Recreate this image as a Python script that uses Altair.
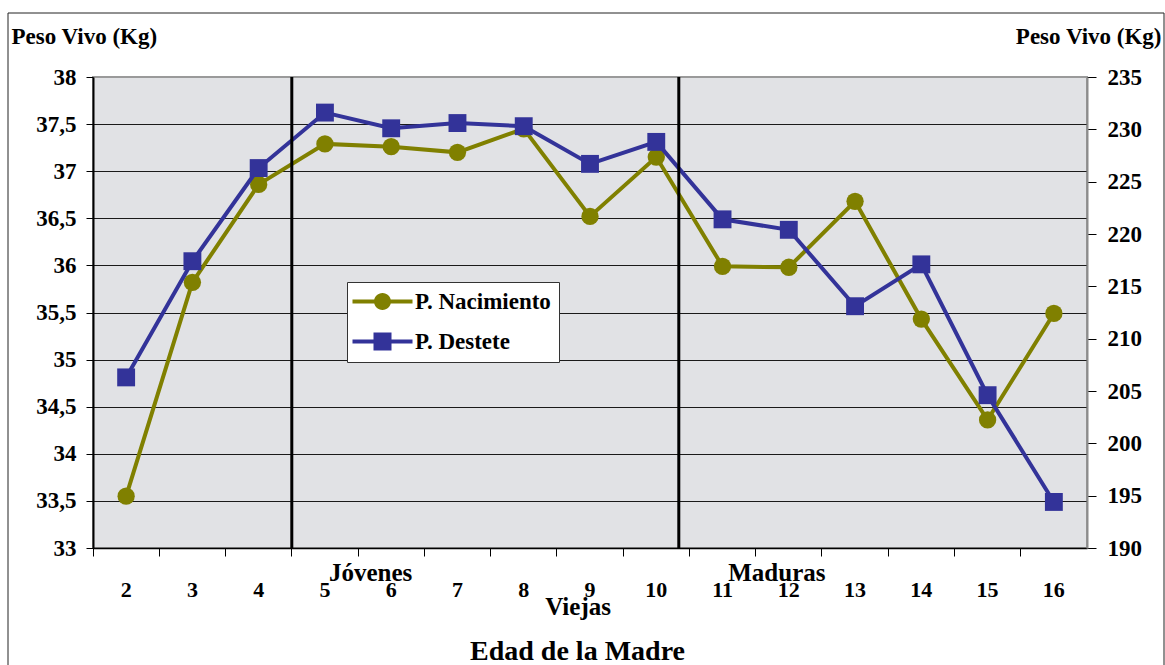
import altair as alt
import pandas as pd

# Edad de la madre (años) y pesos medios
edades = ["2", "3", "4", "5", "6", "7", "8", "9", "10", "11", "12", "13", "14", "15", "16"]
peso_nacimiento = [33.55, 35.82, 36.86, 37.29, 37.26, 37.20, 37.45, 36.52, 37.15,
                   35.99, 35.98, 36.68, 35.43, 34.36, 35.49]
peso_destete = [206.3, 217.4, 226.3, 231.6, 230.1, 230.6, 230.3, 226.7, 228.8,
                221.4, 220.4, 213.1, 217.1, 204.6, 194.4]

series = ["P. Nacimiento", "P. Destete"]
colores = ["#808000", "#333399"]

eje_izq = [33, 33.5, 34, 34.5, 35, 35.5, 36, 36.5, 37, 37.5, 38]
eje_der = [190, 195, 200, 205, 210, 215, 220, 225, 230, 235]

# separadores entre grupos de edad: banda y posición dentro de la banda
divisiones = [
    {"edad": "5", "pos": 0.0},
    {"edad": "10", "pos": 0.84},
]
# rótulos de grupo: texto, banda, posición dentro de la banda y fila bajo el eje
grupos = [
    {"txt": "Jóvenes", "edad": "6", "pos": 0.19, "fila": 33},
    {"txt": "Maduras", "edad": "12", "pos": 0.32, "fila": 33},
    {"txt": "Viejas", "edad": "9", "pos": 0.32, "fila": 67},
]

W, H = 994, 471
FONT = "Liberation Serif"

df = pd.DataFrame({"edad": edades, "nac": peso_nacimiento, "des": peso_destete})
df_leyenda = pd.DataFrame({"edad": edades[:2], "serie": series})

x_scale = alt.Scale(type="band", domain=edades, paddingInner=0, paddingOuter=0)
x_axis = alt.Axis(
    title="Edad de la Madre", labelAngle=0, bandPosition=0, grid=False,
    tickSize=8, tickColor="black", domainColor="black", domainWidth=1.5,
    labelFont=FONT, labelFontWeight="bold", labelFontSize=22,
    labelBaseline="alphabetic", labelPadding=40,
    titleFont=FONT, titleFontWeight="bold", titleFontSize=28,
    titleX=484, titleY=111, titleAlign="center", titleBaseline="alphabetic",
)


def xenc(band=None):
    if band is None:
        return alt.X("edad:O", scale=x_scale, axis=x_axis)
    return alt.X("edad:O", scale=x_scale, axis=x_axis, bandPosition=band)


y_izq = alt.Y(
    "nac:Q",
    scale=alt.Scale(domain=[33, 38], nice=False, zero=False),
    axis=alt.Axis(
        title="Peso Vivo (Kg)", values=eje_izq,
        labelExpr="replace(format(datum.value, '~g'), '.', ',')",
        tickSize=7, tickColor="black", labelPadding=10,
        labelFont=FONT, labelFontWeight="bold", labelFontSize=23,
        domainColor="black", domainWidth=2,
        grid=True, gridWidth=1,
        gridColor={"condition": {"test": "datum.value >= 38", "value": "#9a9a9a"},
                   "value": "#1a1a1a"},
        titleFont=FONT, titleFontWeight="bold", titleFontSize=23,
        titleAngle=0, titleAlign="left", titleBaseline="alphabetic",
        titleX=-82, titleY=-34,
    ),
)

y_der = alt.Y(
    "des:Q",
    scale=alt.Scale(domain=[190, 235], nice=False, zero=False),
    axis=alt.Axis(
        orient="right", title="Peso Vivo (Kg)", values=eje_der,
        tickSize=9, tickColor="black", labelPadding=11,
        labelFont=FONT, labelFontWeight="bold", labelFontSize=23,
        domainColor="#8c8c8c", domainWidth=2, grid=False,
        titleFont=FONT, titleFontWeight="bold", titleFontSize=23,
        titleAngle=0, titleAlign="right", titleBaseline="alphabetic",
        titleX=74, titleY=-34,
    ),
)

base = alt.Chart(df)

nacimiento = alt.layer(
    base.mark_line(color=colores[0], strokeWidth=4).encode(x=xenc(), y=y_izq),
    base.mark_point(color=colores[0], filled=True, opacity=1, shape="circle", size=300)
    .encode(x=xenc(), y=y_izq),
)

destete = alt.layer(
    base.mark_line(color=colores[1], strokeWidth=4).encode(x=xenc(), y=y_der),
    base.mark_point(color=colores[1], filled=True, opacity=1, shape="square", size=320)
    .encode(x=xenc(), y=y_der),
)

# Líneas verticales que separan los grupos de edad
separadores = [
    alt.Chart(pd.DataFrame([d])).mark_rule(color="black", strokeWidth=3)
    .encode(x=xenc(d["pos"]))
    for d in divisiones
]

# Rótulos de los grupos bajo el eje
rotulos = [
    alt.Chart(pd.DataFrame([g])).mark_text(
        font=FONT, fontWeight="bold", fontSize=25, color="black",
        baseline="alphabetic", align="center",
    ).encode(x=xenc(g["pos"]), y=alt.value(H + g["fila"]), text="txt:N")
    for g in grupos
]

# Símbolos de la leyenda: tramo de línea con su marcador
simbolo_circulo = ("M-3,-0.2 L3,-0.2 L3,0.2 L-3,0.2 Z "
                   "M0.85,0 A0.85,0.85 0 1,1 -0.85,0 A0.85,0.85 0 1,1 0.85,0 Z")
simbolo_cuadrado = ("M-3,-0.2 L3,-0.2 L3,0.2 L-3,0.2 Z "
                    "M-0.9,-0.9 L0.9,-0.9 L0.9,0.9 L-0.9,0.9 Z")

leyenda = alt.Legend(
    title=None, orient="none", legendX=254, legendY=205, direction="vertical",
    symbolSize=400, symbolOffset=16, symbolOpacity=1, symbolStrokeWidth=0,
    labelFont=FONT, labelFontSize=23, labelFontWeight="bold", labelColor="black",
    labelOffset=21, labelLimit=300,
    fillColor="white", strokeColor="#333333", padding=8, rowPadding=16,
)

capa_leyenda = alt.Chart(df_leyenda).mark_point(filled=True, opacity=0).encode(
    x=xenc(),
    color=alt.Color("serie:N", scale=alt.Scale(domain=series, range=colores), legend=leyenda),
    shape=alt.Shape("serie:N", scale=alt.Scale(domain=series,
                                                range=[simbolo_circulo, simbolo_cuadrado]),
                    legend=leyenda),
)

# Marco exterior del gráfico
marco = alt.Chart(pd.DataFrame({"m": [0]})).mark_rect(
    fill="transparent", stroke="#222222", strokeWidth=1
).encode(
    x=alt.value(-85), x2=alt.value(W + 77),
    y=alt.value(-64), y2=alt.value(H + 130),
)

chart = alt.layer(
    marco, nacimiento, destete, *separadores, capa_leyenda, *rotulos
).resolve_scale(
    y="independent"
).properties(
    width=W, height=H,
    padding={"left": 7, "top": 12, "right": 0, "bottom": 0},
).configure(
    font=FONT,
).configure_view(
    fill="#e1e2e5", stroke="#9a9a9a", strokeWidth=2,
).configure_axis(
    labelFont=FONT, titleFont=FONT, labelFontWeight="bold", titleFontWeight="bold",
    labelColor="black", titleColor="black",
)

chart.save("out.html", embed_options={"renderer": "svg", "actions": False})
